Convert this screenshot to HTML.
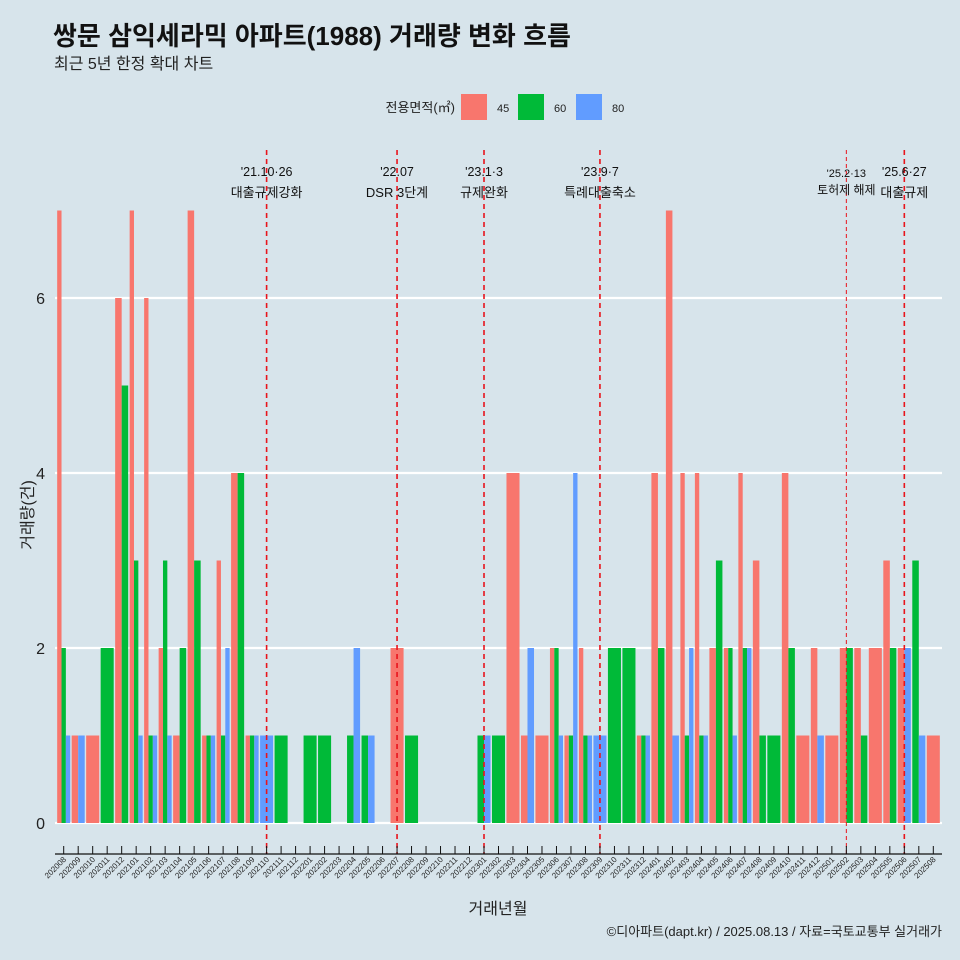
<!DOCTYPE html>
<html><head><meta charset="utf-8"><style>
body{margin:0;background:#d7e4eb;}
svg{display:block;font-family:"Liberation Sans","Noto Sans CJK KR",sans-serif;}
</style></head><body>
<svg id="c" width="960" height="960">
<rect x="0" y="0" width="960" height="960" fill="#d7e4eb"/>
<text x="53" y="45" font-size="26" font-weight="bold" fill="#111">쌍문 삼익세라믹 아파트(1988) 거래량 변화 흐름</text>
<text x="54" y="69" font-size="16" fill="#222">최근 5년 한정 확대 차트</text>
<g>
<text x="455" y="112" font-size="13" text-anchor="end" fill="#222">전용면적(㎡)</text>
<rect x="461" y="94" width="26" height="26" fill="#f8766d"/>
<text x="497" y="112" font-size="11" fill="#222">45</text>
<rect x="518" y="94" width="26" height="26" fill="#00ba38"/>
<text x="554" y="112" font-size="11" fill="#222">60</text>
<rect x="576" y="94" width="26" height="26" fill="#619cff"/>
<text x="612" y="112" font-size="11" fill="#222">80</text>
</g>
<g id="grid"></g><g id="bars"></g><g id="events"></g><g id="xaxis"></g>
<text x="0" y="0" transform="translate(33,515) rotate(-90)" font-size="16" text-anchor="middle" fill="#222">거래량(건)</text>
<text x="498" y="914" font-size="16" text-anchor="middle" fill="#222">거래년월</text>
<text x="942" y="936" font-size="13" text-anchor="end" fill="#222">©디아파트(dapt.kr) / 2025.08.13 / 자료=국토교통부 실거래가</text>
</svg>
<script>
const months=["202008","202009","202010","202011","202012","202101","202102","202103","202104","202105","202106","202107","202108","202109","202110","202111","202112","202201","202202","202203","202204","202205","202206","202207","202208","202209","202210","202211","202212","202301","202302","202303","202304","202305","202306","202307","202308","202309","202310","202311","202312","202401","202402","202403","202404","202405","202406","202407","202408","202409","202410","202411","202412","202501","202502","202503","202504","202505","202506","202507","202508"];
const s45=[7,1,1,0,6,7,6,2,1,7,1,3,4,1,0,0,0,0,0,0,0,0,0,2,0,0,0,0,0,0,0,4,1,1,2,1,2,0,0,0,1,4,7,4,4,2,2,4,3,0,4,1,2,1,2,2,2,3,2,0,1];
const s60=[2,0,0,2,5,3,1,3,2,3,1,1,4,1,0,1,0,1,1,0,1,1,0,0,1,0,0,0,0,1,1,0,0,0,2,1,1,0,2,2,1,2,0,1,1,3,2,2,1,1,2,0,0,0,2,1,0,2,0,3,0];
const s80=[1,1,0,0,0,1,1,1,0,0,1,2,0,1,1,0,0,0,0,0,2,1,0,0,0,0,0,0,0,1,0,0,2,0,1,4,1,1,0,0,1,0,1,2,1,0,1,2,0,0,0,0,1,0,0,0,0,0,2,1,0];
const yTicks=[0,2,4,6];
const events=["202110","202207","202301","202309","202502","202506"];
const eventDates=["'21.10·26","'22.07","'23.1·3","'23.9·7","'25.2·13","'25.6·27"];
const eventLabels=["대출규제강화","DSR 3단계","규제완화","특례대출축소","토허제 해제","대출규제"];

const NS="http://www.w3.org/2000/svg";
const L=55,R=942,Y0=823,PY=87.5;
const step=(R-L)/(months.length+0.2);
const xc=i=>L+(i+0.6)*step;
const y=v=>Y0-v*PY;
function mk(tag,attrs,parent){const e=document.createElementNS(NS,tag);for(const k in attrs)e.setAttribute(k,attrs[k]);parent.appendChild(e);return e;}
const grid=document.getElementById('grid'),bars=document.getElementById('bars'),ev=document.getElementById('events'),xa=document.getElementById('xaxis');
yTicks.forEach(t=>{
  const l=mk('line',{x1:L,x2:R,y1:y(t),y2:y(t),stroke:'#fff','stroke-width':2.2},grid);
  
  
  const tx=mk('text',{x:45,y:y(t)+6,'font-size':16,'text-anchor':'end',fill:'#222'},grid);
  tx.textContent=t;
  
  
});
const series=[[s45,'#f8766d','45'],[s60,'#00ba38','60'],[s80,'#619cff','80']];
months.forEach((m,i)=>{
  const present=series.filter(s=>s[0][i]>0);
  const n=present.length;if(!n)return;
  const w=step*0.9,bw=w/n;let x0=xc(i)-w/2;
  present.forEach((s,k)=>{
    const v=s[0][i];
    const r=mk('rect',{x:x0+k*bw,y:y(v),width:bw,height:v*PY,fill:s[1]},bars);
    
    
  });
});
events.forEach((m,j)=>{
  const i=months.indexOf(m);const x=xc(i);const small=(j===4);
  const l=mk('line',{x1:x,x2:x,y1:150,y2:854,stroke:'#e8141c','stroke-width':small?1:1.6,'stroke-dasharray':small?'4,3':'5,4'},ev);
  
  
  const t1=mk('text',{x:x,y:small?177:176,'font-size':small?11:12.5,'text-anchor':'middle',fill:'#111'},ev);
  t1.textContent=eventDates[j];
  
  
  const t2=mk('text',{x:x,y:small?194:197,'font-size':small?12:13,'text-anchor':'middle',fill:'#111'},ev);
  t2.textContent=eventLabels[j];
  
  
});
const ax=mk('line',{x1:L,x2:R,y1:854,y2:854,stroke:'#111','stroke-width':1.2},xa);


months.forEach((m,i)=>{
  const x=xc(i);
  const t=mk('line',{x1:x,x2:x,y1:846,y2:854,stroke:'#111','stroke-width':1},xa);
  
  
  const tx=mk('text',{x:0,y:0,'font-size':8,'text-anchor':'end',fill:'#222',transform:`translate(${x+3},${860}) rotate(-45)`},xa);
  tx.textContent=m;
  
  
});
</script>
</body></html>
